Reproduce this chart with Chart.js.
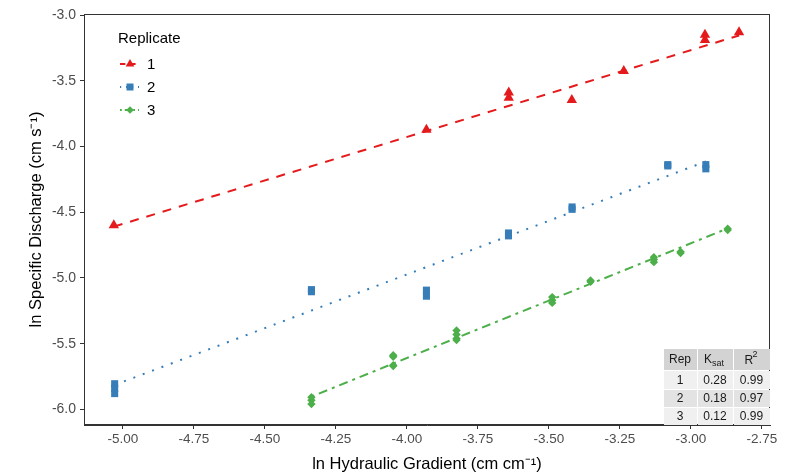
<!DOCTYPE html>
<html lang="en">
<head>
<meta charset="UTF-8">
<title>ln Specific Discharge vs ln Hydraulic Gradient</title>
<script src="https://cdn.jsdelivr.net/npm/chart.js@4"></script>
<style>
  body { margin: 0; background: #fff; }
  #wrap { width: 787px; height: 476px; }
</style>
</head>
<body>
<div id="wrap"><canvas id="chart" width="787" height="476"></canvas></div>
<script>
// Replicate measurements (ln hydraulic gradient, ln specific discharge)
const rep1X = [-5.032, -3.931, -3.641, -3.641, -3.419, -3.236, -2.950, -2.950, -2.830];
const rep1Y = [-4.60, -3.873, -3.59, -3.63, -3.647, -3.426, -3.15, -3.19, -3.13];

const rep2X = [-5.029, -5.029, -5.029, -4.336, -4.336, -3.931, -3.931, -3.642, -3.642, -3.418, -3.418, -3.081, -3.081, -2.947, -2.947];
const rep2Y = [-5.805, -5.84, -5.88, -5.089, -5.105, -5.093, -5.139, -4.658, -4.68, -4.46, -4.478, -4.138, -4.148, -4.138, -4.17];

const rep3X = [-4.336, -4.336, -4.336, -4.048, -4.048, -4.048, -4.048, -3.825, -3.825, -3.825, -3.825,
               -3.488, -3.488, -3.488, -3.353, -3.353, -3.130, -3.130, -3.130, -3.036, -3.036, -2.870, -2.870];
const rep3Y = [-5.907, -5.93, -5.96, -5.588, -5.60, -5.664, -5.67, -5.40, -5.43, -5.46, -5.473,
               -5.146, -5.17, -5.19, -5.02, -5.03, -4.842, -4.86, -4.88, -4.80, -4.81, -4.625, -4.635];

// Fitted regression lines (end points)
const fit1X = [-5.032, -2.830];
const fit1Y = [-4.61, -3.155];
const fit2X = [-5.029, -2.947];
const fit2Y = [-5.814, -4.114];
const fit3X = [-4.336, -2.870];
const fit3Y = [-5.903, -4.623];

const xTicks = [-5.00, -4.75, -4.50, -4.25, -4.00, -3.75, -3.50, -3.25, -3.00, -2.75];
const yTicks = [-6.0, -5.5, -5.0, -4.5, -4.0, -3.5, -3.0];

const legendTitle = 'Replicate';
const replicates = ['1', '2', '3'];

// Summary table
const tableRep = ['1', '2', '3'];
const tableKsat = ['0.28', '0.18', '0.12'];
const tableR2 = ['0.99', '0.97', '0.99'];

const RED = '#E41A1C';
const BLUE = '#377EB8';
const GREEN = '#4DAF4A';
const FONT = "'Liberation Sans', Arial, sans-serif";

const toXY = (xs, ys) => xs.map((x, i) => ({ x, y: ys[i] }));

const styles = [
  { color: RED, dash: [9, 8], shape: 'triangle' },
  { color: BLUE, dash: [2, 8], shape: 'rect' },
  { color: GREEN, dash: [3, 5, 9, 5], shape: 'rectRot' }
];

function drawShape(ctx, shape, x, y, color) {
  ctx.fillStyle = color;
  ctx.beginPath();
  if (shape === 'triangle') {
    const r = 5;
    ctx.moveTo(x, y - r);
    ctx.lineTo(x + r * 0.866, y + r / 2);
    ctx.lineTo(x - r * 0.866, y + r / 2);
  } else if (shape === 'rect') {
    ctx.rect(x - 3.5, y - 3.5, 7, 7);
  } else {
    const r = 3.8;
    ctx.moveTo(x, y - r);
    ctx.lineTo(x + r, y);
    ctx.lineTo(x, y + r);
    ctx.lineTo(x - r, y);
  }
  ctx.closePath();
  ctx.fill();
}

const extras = {
  id: 'extras',
  afterDraw(chart) {
    const { ctx, chartArea: a } = chart;
    ctx.save();

    // panel border
    ctx.strokeStyle = '#333333';
    ctx.lineWidth = 1;
    ctx.strokeRect(a.left + 0.5, a.top + 0.5, a.right - a.left - 1, a.bottom - a.top - 1);

    // legend inside panel
    ctx.fillStyle = '#000';
    ctx.font = '15px ' + FONT;
    ctx.textAlign = 'left';
    ctx.textBaseline = 'alphabetic';
    ctx.fillText(legendTitle, 118, 43);
    replicates.forEach((lab, i) => {
      const y = 64 + i * 23;
      const st = styles[i];
      ctx.strokeStyle = st.color;
      ctx.lineWidth = 2;
      ctx.setLineDash(st.dash.map(d => d * 0.6));
      ctx.beginPath();
      ctx.moveTo(120, y);
      ctx.lineTo(139, y);
      ctx.stroke();
      ctx.setLineDash([]);
      drawShape(ctx, st.shape, 130, y, st.color);
      ctx.fillStyle = '#000';
      ctx.font = '15px ' + FONT;
      ctx.textBaseline = 'middle';
      ctx.fillText(lab, 147, y + 1);
    });

    // table in bottom-right corner
    const cols = [663, 697, 733, 770];
    const rows = [348, 370, 389, 407, 425];
    const fills = ['#d3d3d3', '#f0f0f0', '#e3e3e3', '#f0f0f0'];
    for (let r = 0; r < 4; r++) {
      for (let c = 0; c < 3; c++) {
        ctx.fillStyle = fills[r];
        ctx.fillRect(cols[c] + 1, rows[r] + 1, cols[c + 1] - cols[c] - 1, rows[r + 1] - rows[r] - 1);
      }
    }
    ctx.fillStyle = '#1a1a1a';
    ctx.textAlign = 'center';
    ctx.textBaseline = 'middle';
    ctx.font = '12px ' + FONT;
    const hy = (rows[0] + rows[1]) / 2 + 1;
    ctx.fillText('Rep', (cols[0] + cols[1]) / 2, hy);
    // K_sat
    const kx = (cols[1] + cols[2]) / 2;
    ctx.textAlign = 'left';
    ctx.fillText('K', kx - 11, hy);
    ctx.font = '9px ' + FONT;
    ctx.fillText('sat', kx - 3, hy + 4);
    // R^2
    const rx = (cols[2] + cols[3]) / 2;
    ctx.font = '12px ' + FONT;
    ctx.fillText('R', rx - 7, hy + 1);
    ctx.font = '9px ' + FONT;
    ctx.fillText('2', rx + 1, hy - 5);
    ctx.font = '12px ' + FONT;
    ctx.textAlign = 'center';
    for (let r = 0; r < 3; r++) {
      const y = (rows[r + 1] + rows[r + 2]) / 2 + 1;
      ctx.fillText(tableRep[r], (cols[0] + cols[1]) / 2, y);
      ctx.fillText(tableKsat[r], (cols[1] + cols[2]) / 2, y);
      ctx.fillText(tableR2[r], (cols[2] + cols[3]) / 2, y);
    }
    ctx.restore();
  }
};

const lineSet = (xs, ys, st) => ({
  data: toXY(xs, ys),
  showLine: true,
  borderColor: st.color,
  borderWidth: 2,
  borderDash: st.dash,
  pointRadius: 0,
  fill: false
});

const pointSet = (xs, ys, st, radius) => ({
  data: toXY(xs, ys),
  showLine: false,
  pointStyle: st.shape,
  pointRadius: radius,
  pointBackgroundColor: st.color,
  pointBorderColor: st.color,
  pointBorderWidth: 0
});

new Chart(document.getElementById('chart'), {
  type: 'scatter',
  data: {
    datasets: [
      pointSet(rep1X, rep1Y, styles[0], 6),
      pointSet(rep2X, rep2Y, styles[1], 5),
      pointSet(rep3X, rep3Y, styles[2], 4.2),
      lineSet(fit1X, fit1Y, styles[0]),
      lineSet(fit2X, fit2Y, styles[1]),
      lineSet(fit3X, fit3Y, styles[2])
    ]
  },
  options: {
    responsive: false,
    animation: false,
    layout: { padding: { top: 14, right: 17, left: 0, bottom: 0 } },
    plugins: {
      legend: { display: false },
      tooltip: { enabled: false }
    },
    scales: {
      x: {
        type: 'linear',
        min: -5.137,
        max: -2.721,
        afterBuildTicks: s => { s.ticks = xTicks.map(v => ({ value: v })); },
        afterFit: s => { s.height = 51; },
        ticks: {
          callback: v => v.toFixed(2),
          color: '#4d4d4d',
          font: { family: FONT, size: 13.5 },
          padding: 2,
          maxRotation: 0
        },
        grid: { drawOnChartArea: false, drawTicks: true, tickLength: 4, color: '#333333' },
        border: { display: true, color: '#333333' },
        title: {
          display: true,
          text: 'ln Hydraulic Gradient (cm cm\u207B\u00B9)',
          color: '#000',
          font: { family: FONT, size: 16.5 },
          padding: { top: 0, bottom: 2 }
        }
      },
      y: {
        type: 'linear',
        min: -6.119,
        max: -2.992,
        afterBuildTicks: s => { s.ticks = yTicks.map(v => ({ value: v })); },
        afterFit: s => { s.width = 84; },
        ticks: {
          callback: v => v.toFixed(1),
          color: '#4d4d4d',
          font: { family: FONT, size: 14 },
          padding: 4
        },
        grid: { drawOnChartArea: false, drawTicks: true, tickLength: 4, color: '#333333' },
        border: { display: true, color: '#333333' },
        title: {
          display: true,
          text: 'ln Specific Discharge (cm s\u207B\u00B9)',
          color: '#000',
          font: { family: FONT, size: 16.5 },
          padding: { top: 27, bottom: 0 }
        }
      }
    }
  },
  plugins: [extras]
});
</script>
</body>
</html>
